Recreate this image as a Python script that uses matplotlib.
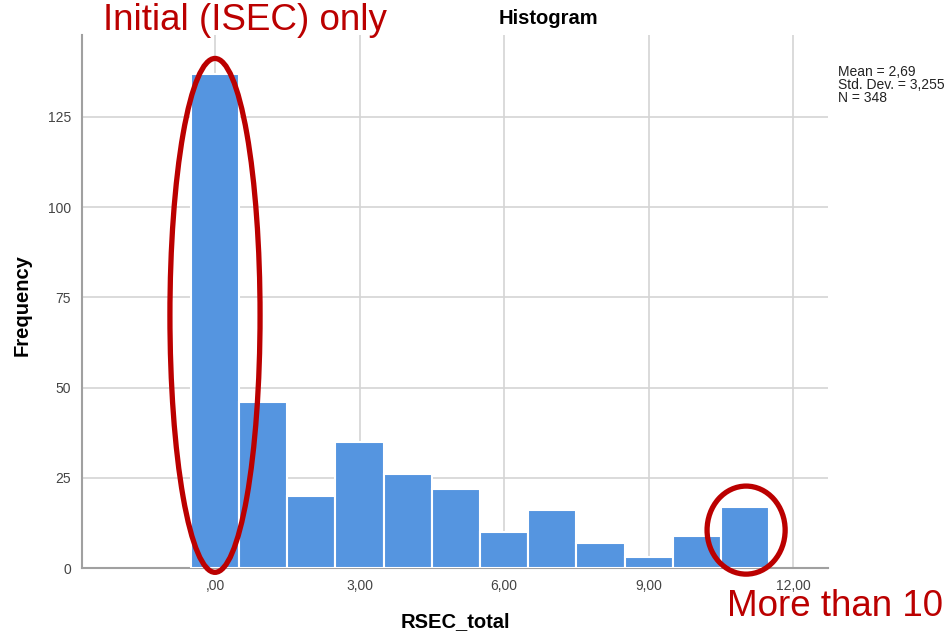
import numpy as np
import matplotlib
matplotlib.use("Agg")
import matplotlib.pyplot as plt
from matplotlib.patches import Ellipse

# RSEC_total counts per bin (bins centred on 0..11)
bin_centers = [0, 1, 2, 3, 4, 5, 6, 7, 8, 9, 10, 11]
counts = [137, 46, 20, 35, 26, 22, 10, 16, 7, 3, 9, 17]
x_ticks = [0, 3, 6, 9, 12]
x_tick_labels = [",00", "3,00", "6,00", "9,00", "12,00"]
y_ticks = [0, 25, 50, 75, 100, 125]
stats_text = "Mean = 2,69\nStd. Dev. = 3,255\nN = 348"

plt.rcParams['font.family'] = ['Liberation Sans', 'DejaVu Sans']

fig = plt.figure(figsize=(9.51, 6.34), dpi=100)
ax = fig.add_axes([0.0862, 0.1041, 0.7845, 0.8407])

ax.bar(bin_centers, counts, width=1.0, color="#5595E0", edgecolor="white",
       linewidth=1.5, zorder=3)

ax.set_xlim(-2.76, 12.72)
ax.set_ylim(0, 147.7)
ax.set_xticks(x_ticks)
ax.set_xticklabels(x_tick_labels)
ax.set_yticks(y_ticks)
ax.tick_params(length=0, labelsize=10, colors="#444444", pad=8)
ax.grid(True, color="#d4d4d4", linewidth=1.2, zorder=0)
ax.set_axisbelow(True)
for s in ["top", "right"]:
    ax.spines[s].set_visible(False)
for s in ["left", "bottom"]:
    ax.spines[s].set_color("#a0a0a0")
    ax.spines[s].set_linewidth(1.5)

# axis titles placed in figure pixels to match the layout
fig.text(455 / 951, 1 - 622 / 634, "RSEC_total", fontsize=14.5,
         fontweight="bold", ha="center", va="center")
fig.text(22 / 951, 1 - 305 / 634, "Frequency", fontsize=14.5,
         fontweight="bold", ha="center", va="center", rotation=90)
fig.text(548 / 951, 1 - 19 / 634, "Histogram", fontsize=14.5,
         fontweight="bold", ha="center", va="center")
fig.text(838 / 951, 1 - 65 / 634, stats_text, fontsize=10, va="top",
         ha="left", linespacing=0.9, color="#222222")

# red annotations
red = "#BB0000"
ax.add_patch(Ellipse((0.0, 70), 1.87, 142.4, fill=False, edgecolor=red,
                     linewidth=3.8, zorder=5, clip_on=False))
ax.add_patch(Ellipse((11.02, 10.5), 1.62, 24.4, fill=False, edgecolor=red,
                     linewidth=3.8, zorder=5, clip_on=False))
fig.text(103 / 951, 1 - 20 / 634, "Initial (ISEC) only", fontsize=26.5,
         color=red, ha="left", va="center")
fig.text(727 / 951, 1 - 607 / 634, "More than 10", fontsize=26.5,
         color=red, ha="left", va="center")

fig.savefig("out.png", dpi=100)
